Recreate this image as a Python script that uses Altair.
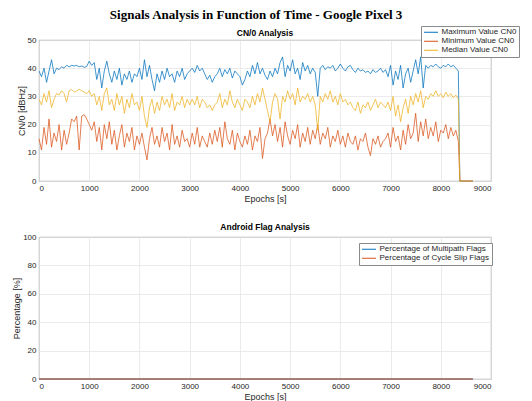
import altair as alt
import pandas as pd

# ---------------- data ----------------
epochs = list(range(0, 8400, 50)) + [8380, 8640]

max_cn0 = [
    39, 37, 40, 35, 39, 43, 38,
    40, 39.5, 40.5, 40, 41, 40.5, 41, 40.8, 41, 40.5, 40.8, 40.3, 40.6,
    42.5, 41, 42,
    36, 40, 33, 39,
    42.5, 38,
    35, 39, 36, 40, 34, 38, 36, 39, 35, 38, 37, 40,
    36, 43, 37, 41, 36, 32,
    38, 35, 39, 36, 40, 37, 38, 35, 39, 37, 40, 36, 38, 39,
    40, 38.5, 41, 39, 40, 38,
    36, 37.5, 35, 37,
    38, 40, 37, 39.5, 38, 40, 36.5, 39, 38, 37,
    34, 36,
    39, 37, 41, 38, 42, 38, 40, 37.5,
    36, 39, 37, 40,
    38, 42, 44, 37, 41, 39, 43, 38, 40, 36, 42, 39, 41, 38, 40, 38.5,
    30,
    40, 41, 39.5, 40.5, 40, 41, 39, 40, 41.5, 40, 39, 40.5, 41,
    39.5, 38.5, 40, 39, 39.5, 38.5, 39, 38, 39.5, 38.5, 39, 40, 38.5, 39.5,
    37, 41, 34, 39, 36, 41, 33, 38, 40, 35, 39,
    43, 38, 44, 33, 41,
    40, 41, 40.5, 41.5, 40.5, 40, 41, 40.5, 41.5, 40.5, 41, 40, 39,
    0, 0,
]

min_cn0 = [
    15, 11, 19, 13, 22, 12, 17,
    14, 20, 11, 18, 13, 17, 22, 21, 23, 11, 23, 23.5, 22,
    20, 18, 21,
    14, 19, 11, 20,
    15, 21,
    13, 18, 11, 16, 20, 12, 17, 14, 19, 11, 16, 13,
    17, 12, 7.5, 15, 19, 13,
    16, 12, 19, 14, 17, 11, 20, 13, 16, 12, 18, 14, 15, 12,
    17, 13, 19, 12, 16, 14,
    12, 17, 13, 18,
    14, 19, 12, 21, 15, 13, 18, 11, 17, 14,
    12, 16,
    13, 18, 11, 16, 14, 19, 8, 15,
    17, 22, 16, 20,
    14, 19, 12, 21, 16, 13, 18, 15, 20, 12, 17, 14, 19, 13, 18, 15,
    20,
    13, 17, 15, 19, 12, 16, 14, 18, 13, 16, 12, 17, 14,
    13, 16, 11, 15, 14, 17, 12, 9, 15, 13, 16, 12, 14, 15,
    17, 12, 19, 14, 16, 11, 18, 13, 20, 15, 17,
    24, 14, 21, 16, 22,
    15, 19, 16, 21, 14, 18, 17, 20, 15, 19, 16, 18, 14,
    0, 0,
]

med_cn0 = [
    29, 27, 31, 28, 32, 26, 29,
    31, 30.5, 32, 31, 28, 32, 32.5, 31.5, 32, 32.5, 32, 31.5, 31,
    32, 30, 31,
    27, 30, 25, 31,
    33, 27,
    29, 25, 31, 27, 30, 24, 29, 26, 31, 27, 28, 25,
    30, 23, 19, 26, 29, 24,
    28, 25, 30, 27, 29, 26, 31, 25, 28, 27, 30, 26, 29, 27,
    29, 27, 30, 26, 29, 28,
    26, 27, 25, 27,
    28, 31, 26, 29, 27, 32, 28, 26, 29, 27,
    25, 29,
    28, 26, 30, 27, 31, 28, 33, 29,
    25, 21, 28, 31,
    29, 22, 30, 28, 32, 29, 31, 27, 33, 28, 30, 29, 31, 28, 30, 27,
    18,
    30, 28, 31, 29, 32, 28, 30, 27, 31, 28, 29, 27, 28,
    26, 25, 28, 24, 27, 26, 28, 25, 27, 29, 26, 28, 27, 26,
    28, 25, 30, 23, 27, 21, 26, 29, 24, 30, 27,
    31, 28, 32, 26, 30,
    29, 31, 30, 32, 30, 31, 29.5, 31.5, 30, 31, 29.5, 30.5, 29,
    0, 0,
]

flag_epochs = [0, 8640]
multipath_pct = [0, 0]
cycle_slip_pct = [0, 0]

cn0_names = ["Maximum Value CN0", "Minimum Value CN0", "Median Value CN0"]
flag_names = ["Percentage of Multipath Flags", "Percentage of Cycle Slip Flags"]
x_ticks = [0, 1000, 2000, 3000, 4000, 5000, 6000, 7000, 8000, 9000]
cn0_ticks = [0, 10, 20, 30, 40, 50]
pct_ticks = [0, 20, 40, 60, 80, 100]

# ---------------- chart ----------------
BLUE, ORANGE, YELLOW = "#0072BD", "#D95319", "#EDB120"
FONT = "Liberation Sans"

df_top = pd.DataFrame({"Epoch": epochs, "max": max_cn0, "min": min_cn0, "med": med_cn0})
df_bot = pd.DataFrame({"Epoch": flag_epochs, "mp": multipath_pct, "cs": cycle_slip_pct})

xscale = alt.Scale(domain=[0, 9000], nice=False, zero=False)
xaxis = alt.Axis(values=x_ticks, title="Epochs [s]", format="d")

legend_common = dict(
    title=None, orient="none", symbolType="stroke", symbolSize=196,
    symbolStrokeWidth=1.0, labelFontSize=8, labelFont=FONT, labelColor="#262626",
    strokeColor="#8a8a8a", fillColor="white", padding=2.5, rowPadding=0,
    labelOffset=3, clipHeight=7.5,
)

top_color = alt.Scale(domain=cn0_names, range=[BLUE, ORANGE, YELLOW])
top_legend = alt.Legend(legendX=382, legendY=-14, **legend_common)


def top_line(field, name):
    return alt.Chart(df_top).transform_calculate(
        series=f"'{name}'"
    ).mark_line(strokeWidth=0.75).encode(
        x=alt.X("Epoch:Q", scale=xscale, axis=xaxis),
        y=alt.Y(f"{field}:Q", scale=alt.Scale(domain=[0, 50], nice=False),
                axis=alt.Axis(values=cn0_ticks, title="CN/0 [dBHz]", titlePadding=1)),
        color=alt.Color("series:N", scale=top_color, legend=top_legend),
    )


top = alt.layer(
    top_line("max", cn0_names[0]),
    top_line("min", cn0_names[1]),
    top_line("med", cn0_names[2]),
).properties(
    width=452, height=141,
    title=alt.TitleParams("CN/0 Analysis", font=FONT, fontSize=8.5,
                          fontWeight="bold", color="#000", offset=-12),
)

bot_color = alt.Scale(domain=flag_names, range=[BLUE, ORANGE])
bot_legend = alt.Legend(legendX=320, legendY=6, **legend_common)


def bot_line(field, name):
    return alt.Chart(df_bot).transform_calculate(
        series=f"'{name}'"
    ).mark_line(strokeWidth=1.0).encode(
        x=alt.X("Epoch:Q", scale=xscale, axis=xaxis),
        y=alt.Y(f"{field}:Q", scale=alt.Scale(domain=[0, 100], nice=False),
                axis=alt.Axis(values=pct_ticks, title="Percentage [%]", titlePadding=1)),
        color=alt.Color("series:N", scale=bot_color, legend=bot_legend),
    )


bottom = alt.layer(
    bot_line("mp", flag_names[0]),
    bot_line("cs", flag_names[1]),
).properties(
    width=452, height=142,
    title=alt.TitleParams("Android Flag Analysis", font=FONT, fontSize=8.5,
                          fontWeight="bold", color="#000", offset=2),
)

chart = alt.vconcat(
    top, bottom, spacing=18,
    title=alt.TitleParams("Signals Analysis in Function of Time - Google Pixel 3",
                          font="Liberation Serif", fontSize=13, fontWeight="bold",
                          color="#000", anchor="middle", offset=3, dx=-10),
).resolve_scale(color="independent").properties(
    padding={"left": 4, "top": 1, "right": 0, "bottom": 0},
    background="white",
).configure_view(
    stroke="#8a8a8a", strokeWidth=0.8,
).configure_axis(
    labelFont=FONT, titleFont=FONT, labelFontSize=8, titleFontSize=9,
    titleFontWeight="normal", labelColor="#262626", titleColor="#262626",
    grid=True, gridColor="#e3e3e3", gridWidth=0.7, domain=False, ticks=False,
    labelPadding=3, titlePadding=2,
)

chart.save("out.html", embed_options={"renderer": "svg", "actions": False})
